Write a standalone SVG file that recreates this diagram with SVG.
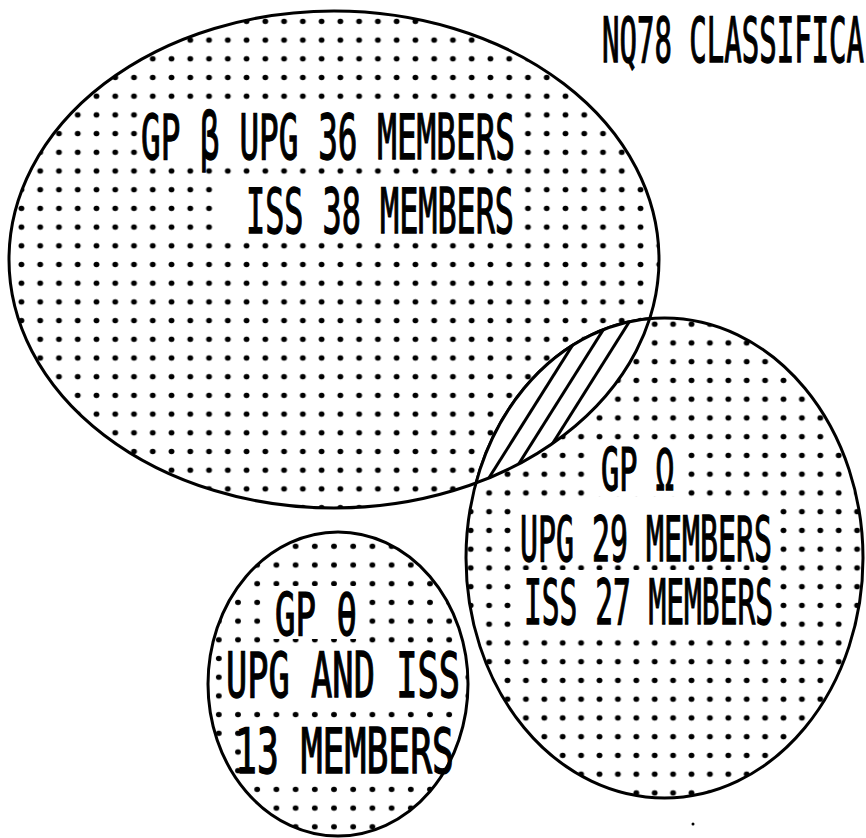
<svg xmlns="http://www.w3.org/2000/svg" width="866" height="838" viewBox="0 0 866 838">
<style>
  .bg { fill: #ffffff; }
  .outline { fill: none; stroke: #000; stroke-width: 3; }
  .box { fill: #ffffff; }
  .lbl { font-family: "DejaVu Sans Mono", "Liberation Mono", monospace; fill: #000; stroke: #000; stroke-width: 1.4; }
  .hatch { stroke: #000; stroke-width: 3; fill: none; }
  .dot { fill: #000; }
</style>
<defs>
  <pattern id="dotsB" patternUnits="userSpaceOnUse" x="124.62" y="161.65" width="18.76" height="18.7">
    <ellipse class="dot" cx="9.38" cy="9.35" rx="2.9" ry="2.7"/>
  </pattern>
  <pattern id="dotsO" patternUnits="userSpaceOnUse" x="553.5" y="427.3" width="18.4" height="18.75">
    <ellipse class="dot" cx="9.2" cy="9.375" rx="2.9" ry="2.7"/>
  </pattern>
  <pattern id="dotsT" patternUnits="userSpaceOnUse" x="228.4" y="555.65" width="19.2" height="18.7">
    <ellipse class="dot" cx="9.6" cy="9.35" rx="2.9" ry="2.7"/>
  </pattern>
  <clipPath id="clipBig"><ellipse cx="334" cy="259.5" rx="325" ry="248.5"/></clipPath>
  <clipPath id="clipOmega"><ellipse cx="664.5" cy="558" rx="198.5" ry="240"/></clipPath>
</defs>
<rect width="866" height="838" fill="#ffffff"/>

<g id="title">
  <text class="lbl" x="602" y="62" font-size="62" textLength="262" lengthAdjust="spacingAndGlyphs">NQ78 CLASSIFICA</text>
</g>

<g id="beta">
  <ellipse class="bg" cx="334" cy="259.5" rx="325" ry="248.5"/>
  <ellipse cx="334" cy="259.5" rx="325" ry="248.5" fill="url(#dotsB)"/>
  <rect class="box" x="138" y="106" width="384" height="58"/>
  <rect class="box" x="220" y="181" width="302" height="57"/>
  <text class="lbl" x="141" y="159" font-size="63" textLength="374" lengthAdjust="spacingAndGlyphs">GP β  UPG 36 MEMBERS</text>
  <text class="lbl" x="246" y="233" font-size="63" textLength="268" lengthAdjust="spacingAndGlyphs">ISS 38 MEMBERS</text>
  <ellipse class="outline" cx="334" cy="259.5" rx="325" ry="248.5"/>
</g>

<g id="omega">
  <ellipse class="bg" cx="664.5" cy="558" rx="198.5" ry="240"/>
  <ellipse cx="664.5" cy="558" rx="198.5" ry="240" fill="url(#dotsO)"/>
  <rect class="box" x="595" y="442" width="92" height="54"/>
  <rect class="box" x="516" y="506" width="262" height="58"/>
  <rect class="box" x="518" y="570" width="260" height="58"/>
  <text class="lbl" x="601" y="490" font-size="58" textLength="73" lengthAdjust="spacingAndGlyphs">GP Ω</text>
  <text class="lbl" x="520" y="561" font-size="63" textLength="252" lengthAdjust="spacingAndGlyphs">UPG 29 MEMBERS</text>
  <text class="lbl" x="524" y="624" font-size="63" textLength="249" lengthAdjust="spacingAndGlyphs">ISS 27 MEMBERS</text>
  <ellipse class="outline" cx="664.5" cy="558" rx="198.5" ry="240"/>
</g>

<g id="overlap">
  <g clip-path="url(#clipOmega)">
    <ellipse class="bg" cx="334" cy="259.5" rx="325" ry="248.5"/>
    <g clip-path="url(#clipBig)">
      <line class="hatch" x1="475" y1="500" x2="601" y2="300"/>
      <line class="hatch" x1="496" y1="500" x2="622" y2="300"/>
      <line class="hatch" x1="517" y1="500" x2="643" y2="300"/>
    </g>
    <ellipse class="outline" cx="334" cy="259.5" rx="325" ry="248.5"/>
  </g>
  <g clip-path="url(#clipBig)">
    <ellipse class="outline" cx="664.5" cy="558" rx="198.5" ry="240"/>
  </g>
</g>

<g id="theta">
  <ellipse class="bg" cx="338" cy="684" rx="130" ry="152"/>
  <ellipse cx="338" cy="684" rx="130" ry="152" fill="url(#dotsT)"/>
  <rect class="box" x="268" y="586" width="96" height="53"/>
  <rect class="box" x="223" y="644" width="238" height="57"/>
  <rect class="box" x="241" y="721" width="217" height="56"/>
  <text class="lbl" x="275" y="635" font-size="58" textLength="82" lengthAdjust="spacingAndGlyphs">GP θ</text>
  <text class="lbl" x="226" y="697" font-size="63" textLength="234" lengthAdjust="spacingAndGlyphs">UPG AND ISS</text>
  <text class="lbl" x="235" y="773" font-size="63" textLength="219" lengthAdjust="spacingAndGlyphs">13 MEMBERS</text>
  <ellipse class="outline" cx="338" cy="684" rx="130" ry="152"/>
</g>

<g id="connectors"></g>
<circle cx="693" cy="824" r="1.5" fill="#000"/>
</svg>
